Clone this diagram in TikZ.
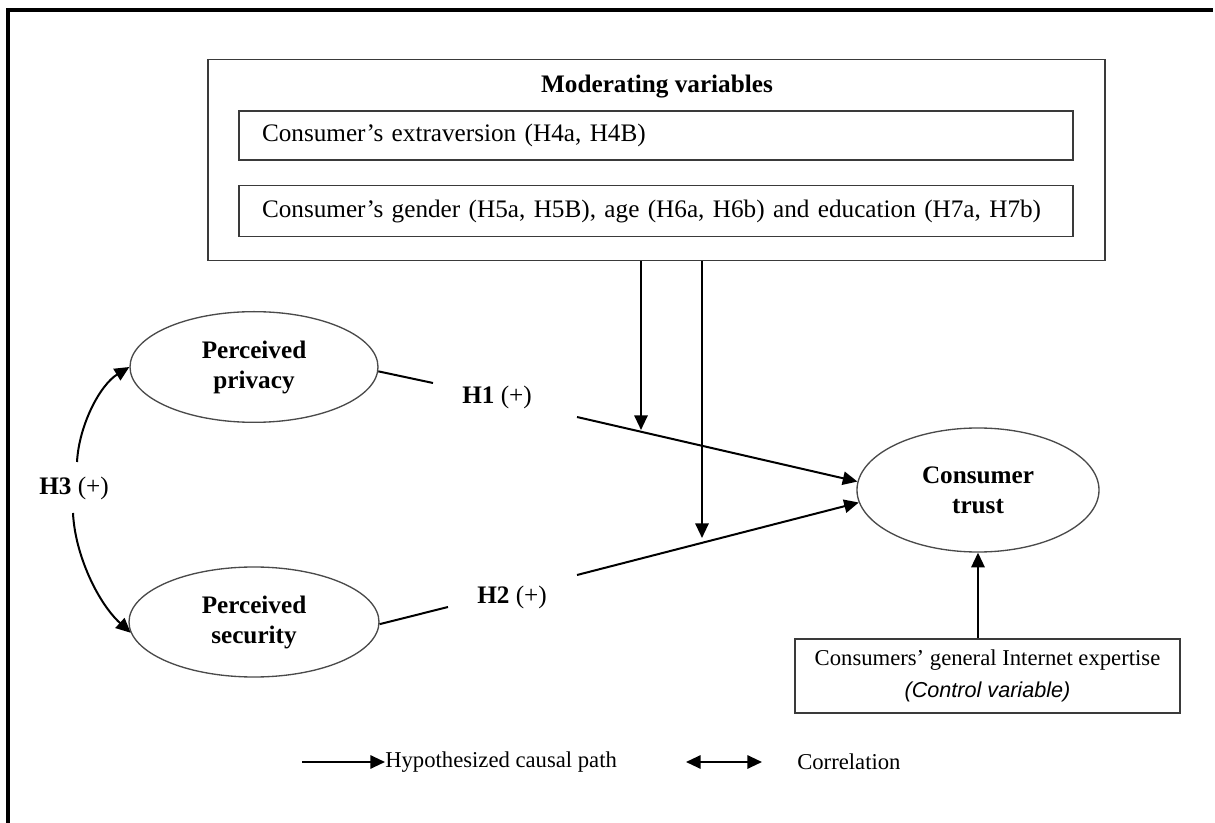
\documentclass[tikz,border=0pt]{standalone}
\usepackage{fontspec}
\setmainfont{Liberation Serif}
\newfontfamily\notefont{Liberation Sans}
\usetikzlibrary{shapes.geometric,arrows.meta,calc}
\newcommand\bigtxt{\fontsize{18.9}{22.5}\selectfont}
\newcommand\smalltxt{\fontsize{17}{24}\selectfont}
\definecolor{boxgray}{HTML}{3A3A3A}
\definecolor{ellgray}{HTML}{4A4A4A}

\begin{document}
\begin{tikzpicture}[x=0.75pt,y=-0.75pt,
  every node/.style={inner sep=0pt,font=\bigtxt},
  modbox/.style={rectangle,draw=boxgray,line width=1.4pt},
  varbox/.style={modbox,minimum width=625.5pt,text width=591pt,inner xsep=17.25pt,align=left},
  construct/.style={ellipse,draw=ellgray,line width=1pt,align=center,font=\bigtxt\bfseries},
  causal/.style={-{Triangle[length=11pt,width=10pt]},line width=1.5pt},
  link/.style={line width=1.5pt},
  corr/.style={{Triangle[length=11pt,width=10pt]}-{Triangle[length=11pt,width=10pt]},line width=1.5pt},
  hyp/.style={font=\bigtxt}]

\useasboundingbox (0,0) rectangle (1215,823);

% outer frame (left and top edges)
\draw[line width=2.4pt] (8,823) -- (8,10) -- (1213,10);

% moderating variables block
\node[modbox,minimum width=672.75pt,minimum height=150.75pt] (mod) at (656.5,160) {};
\node[font=\bigtxt\bfseries] (modtitle) at (657,87) {Moderating variables};
\node[varbox,minimum height=36.75pt] (v1) at (656,135.5) {Consumer’s extraversion (H4a, H4B)};
\node[varbox,minimum height=38.25pt] (v2) at (656,211) {Consumer’s gender (H5a, H5B), age (H6a, H6b) and education (H7a, H7b)};

% constructs
\node[construct,minimum width=186pt,minimum height=83pt] (pp) at (254,367) {Perceived\\privacy};
\node[construct,minimum width=187.5pt,minimum height=82.5pt] (ps) at (254,622) {Perceived\\security};
\node[construct,minimum width=181.5pt,minimum height=93pt] (ct) at (978,490) {Consumer\\trust};

% control variable
\node[modbox,minimum width=288.75pt,minimum height=55.5pt,align=center,font=\smalltxt] (ctrl) at (987.5,676)
  {Consumers’ general Internet expertise\\{\notefont\itshape\fontsize{16.2}{24}\selectfont (Control variable)}};

% hypothesis labels
\node[hyp] (h1) at (497,397) {\textbf{H1} (+)};
\node[hyp] (h2) at (512,597) {\textbf{H2} (+)};
\node[hyp] (h3) at (74,488) {\textbf{H3} (+)};

% break points of the paths around the labels
\coordinate (h1a) at (433,383);
\coordinate (h1b) at (577,417);
\coordinate (h2a) at (448,607);
\coordinate (h2b) at (577,575);
\coordinate (m1) at (641,430);
\coordinate (m2) at (702,538);
\coordinate (h3a) at (77,462);
\coordinate (h3b) at (73,513);

% H1 and H2 paths
\draw[link] (pp.-2) -- (h1a);
\draw[causal] (h1b) -- (ct.176);
\draw[link] (ps.-1) -- (h2a);
\draw[causal] (h2b) -- (ct.186);

% moderating effects
\draw[causal] (m1 |- mod.south) -- (m1);
\draw[causal] (m2 |- mod.south) -- (m2);

% control variable effect
\draw[causal] (ct.south |- ctrl.north) -- (ct.south);

% H3 correlation
\draw[causal] (h3a) .. controls (79,425) and (100,385) .. (pp.west);
\draw[causal] (h3b) .. controls (75,555) and (98,603) .. (ps.185);

% legend
\node[anchor=west,font=\smalltxt] (leg1) at (385,762) {Hypothesized causal path};
\node[anchor=west,font=\smalltxt] (leg2) at (797,762) {Correlation};
\coordinate (lg1) at (302,762);
\coordinate (lg2a) at (686,762);
\coordinate (lg2b) at (762,762);
\draw[causal] (lg1) -- (leg1.west);
\draw[corr] (lg2a) -- (lg2b);
\end{tikzpicture}
\end{document}
